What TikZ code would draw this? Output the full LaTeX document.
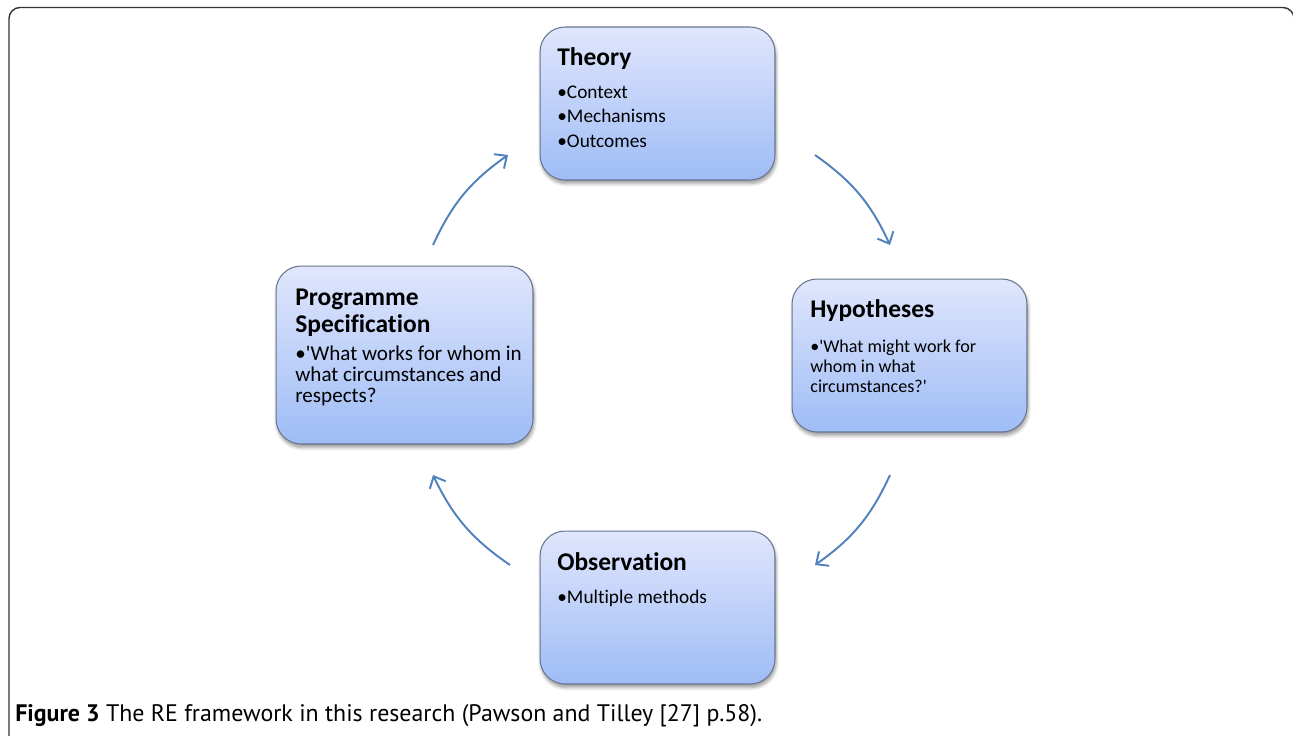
\documentclass[tikz,border=0pt]{standalone}
\usepackage{fontspec}
\setmainfont{Carlito}[Ligatures={NoCommon}]
\newfontfamily\capfont{PT Sans}
\usetikzlibrary{arrows.meta,shadows.blur}
\definecolor{boxtop}{RGB}{224,230,252}
\definecolor{boxbot}{RGB}{158,188,246}
\definecolor{boxline}{RGB}{105,118,142}
\definecolor{arrowblue}{RGB}{79,129,189}
\begin{document}
\begin{tikzpicture}[x=0.02cm, y=-0.02cm,
  stage/.style={draw=boxline, line width=0.6pt, rounded corners=0.5cm, top color=boxtop, bottom color=boxbot, blur shadow={shadow xshift=0.6pt, shadow yshift=-2pt, shadow blur steps=6, shadow opacity=40}},
  title/.style={anchor=base west, inner sep=0pt, font=\bfseries\fontsize{14.5}{15.6}\selectfont},
  bullets/.style={anchor=base west, inner sep=0pt},
  cyc/.style={arrowblue, line width=1.1pt, -{Straight Barb[length=5.5pt,width=10pt]}, bend left=15}]
\useasboundingbox (0,0) rectangle (1293,735);
\draw[line width=0.8pt, black!80, rounded corners=0.22cm] (9,760) -- (9,7.5) -- (1294,7.5) -- (1294,760);
% the four stages
\node[stage, minimum width=4.7cm, minimum height=3.06cm] (theory) at (657.5,103.5){};
\node[stage, minimum width=5.14cm, minimum height=3.56cm] (prog) at (404.5,355){};
\node[stage, minimum width=4.7cm, minimum height=3.06cm] (hyp) at (909.5,355.5){};
\node[stage, minimum width=4.7cm, minimum height=3.06cm] (obs) at (657.5,607.5){};
\node[title] (theoryhd) at (557,65){Theory};
\node[bullets, font=\fontsize{11}{14.2}\selectfont] (theorytxt) at (557,98){\begin{tabular}[t]{@{}l@{}}•Context\\•Mechanisms\\•Outcomes\end{tabular}};
\node[title] (proghd) at (295,305){\begin{tabular}[t]{@{}l@{}}Programme\\Specification\end{tabular}};
\node[bullets, font=\fontsize{12}{12.2}\selectfont] (progtxt) at (295,360){\begin{tabular}[t]{@{}l@{}}•\textquotesingle What works for whom in\\what circumstances and\\respects?\end{tabular}};
\node[title] (hyphd) at (810,317){Hypotheses};
\node[bullets, font=\fontsize{10.3}{11.4}\selectfont] (hyptxt) at (810,352){\begin{tabular}[t]{@{}l@{}}•\textquotesingle What might work for\\whom in what\\circumstances?\textquotesingle\end{tabular}};
\node[title] (obshd) at (557,570){Observation};
\node[bullets, font=\fontsize{11}{14.2}\selectfont] (obstxt) at (557,603){•Multiple methods};
% arrows round the cycle
\coordinate (a1s) at (433,245);
\coordinate (a1e) at (508,155);
\coordinate (a2s) at (815,155);
\coordinate (a2e) at (890,245);
\coordinate (a3s) at (890,475);
\coordinate (a3e) at (815,565);
\coordinate (a4s) at (510,565);
\coordinate (a4e) at (433,475);
\draw[cyc] (a1s) to (a1e);
\draw[cyc] (a2s) to (a2e);
\draw[cyc] (a3s) to (a3e);
\draw[cyc] (a4s) to (a4e);
\node[anchor=base west, inner sep=0pt, font=\capfont\fontsize{13.6}{15}\selectfont] (caption) at (15,721){\textbf{Figure 3} The RE framework in this research (Pawson and Tilley [27] p.58).};
\end{tikzpicture}
\end{document}
